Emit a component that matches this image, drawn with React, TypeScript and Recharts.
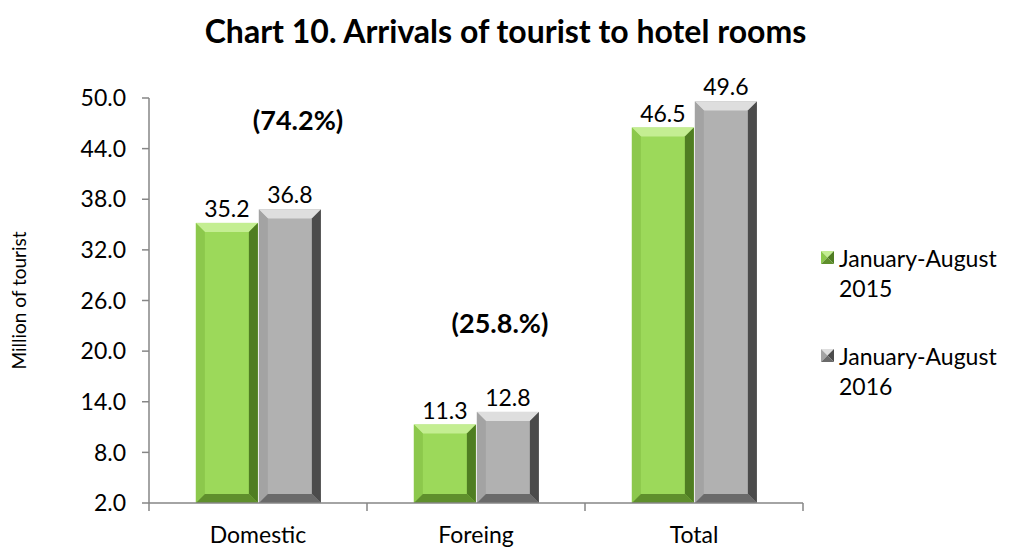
import React from 'react';
import { BarChart, Bar, XAxis, YAxis, LabelList, Label, ReferenceDot } from 'recharts';

const categories = ['Domestic', 'Foreing', 'Total'];
const jan2015 = [35.2, 11.3, 46.5];
const jan2016 = [36.8, 12.8, 49.6];
const yTicks = [2, 8, 14, 20, 26, 32, 38, 44, 50];
const shareCategories = ['Domestic', 'Foreing'];
const shareLevels = [47.4, 23.3];
const shareTexts = ['(74.2%)', '(25.8.%)'];

const seriesNames = ['January-August 2015', 'January-August 2016'];

const data = categories.map((c, i) => ({ name: c, y2015: jan2015[i], y2016: jan2016[i] }));

const FONT = 'Lato, "Open Sans", sans-serif';
const AXIS = '#868686';
const TEXT_SIZE = 23;

type Palette = { face: string; top: string; left: string; right: string; bottom: string };

const GREEN: Palette = { face: '#9cd95a', top: '#c4ee92', left: '#8cc84c', right: '#4f7d22', bottom: '#5f8f2c' };
const GREY: Palette = { face: '#b1b1b1', top: '#dedede', left: '#a3a3a3', right: '#4b4b4b', bottom: '#6a6a6a' };

// bevelled bar like the excel "soft round" preset
const bevelShape = (pal: Palette) => (props: any) => {
  const { x, y, width: w, height: h } = props;
  if (!h || h <= 0) return <g />;
  const b = Math.min(9, w / 4, h / 2);
  return (
    <g>
      <rect x={x} y={y} width={w} height={h} fill={pal.face} />
      <polygon points={`${x},${y} ${x + w},${y} ${x + w - b},${y + b} ${x + b},${y + b}`} fill={pal.top} />
      <polygon points={`${x},${y} ${x + b},${y + b} ${x + b},${y + h - b} ${x},${y + h}`} fill={pal.left} />
      <polygon points={`${x + w},${y} ${x + w},${y + h} ${x + w - b},${y + h - b} ${x + w - b},${y + b}`} fill={pal.right} />
      <polygon points={`${x},${y + h} ${x + w},${y + h} ${x + w - b},${y + h - b} ${x + b},${y + h - b}`} fill={pal.bottom} />
    </g>
  );
};

// category label plus tick marks on the band edges (excel style)
const TICK_MARGIN = 8;
const CategoryTick = (props: any) => {
  const { x, y, payload, index, visibleTicksCount } = props;
  const axisY = y - TICK_MARGIN;
  const half = payload.offset || 0;
  return (
    <g>
      <line x1={x - half} x2={x - half} y1={axisY} y2={axisY + 8} stroke={AXIS} strokeWidth={1.5} />
      {index === visibleTicksCount - 1 && (
        <line x1={x + half} x2={x + half} y1={axisY} y2={axisY + 8} stroke={AXIS} strokeWidth={1.5} />
      )}
      <text x={x} y={axisY + 40} textAnchor="middle" fill="#000" fontSize={TEXT_SIZE} fontFamily={FONT}>
        {payload.value}
      </text>
    </g>
  );
};

const Swatch = ({ pal }: { pal: Palette }) => (
  <svg width={13} height={13} style={{ marginRight: 5, marginTop: 8, flex: 'none' }}>
    <polygon points="0,0 13,0 6.5,6.5" fill={pal.top} />
    <polygon points="0,0 6.5,6.5 0,13" fill={pal.left} />
    <polygon points="13,0 13,13 6.5,6.5" fill={pal.right} />
    <polygon points="0,13 13,13 6.5,6.5" fill={pal.bottom} />
  </svg>
);

const LegendBox = () => (
  <div
    style={{
      position: 'absolute',
      left: 821,
      top: 243,
      fontFamily: FONT,
      fontSize: TEXT_SIZE,
      color: '#000',
      lineHeight: '30px',
    }}
  >
    {seriesNames.map((n, i) => {
      const cut = n.lastIndexOf(' ');
      return (
        <div key={n} style={{ display: 'flex', marginBottom: i === 0 ? 38 : 0 }}>
          <Swatch pal={i === 0 ? GREEN : GREY} />
          <div>
            {n.slice(0, cut)}
            <br />
            {n.slice(cut + 1)}
          </div>
        </div>
      );
    })}
  </div>
);

export default function App() {
  return (
    <div style={{ position: 'absolute', left: 0, top: 0, width: 1011, height: 549, background: '#fff' }}>
      <div
        style={{
          position: 'absolute',
          top: 11,
          left: 0,
          width: 1011,
          textAlign: 'center',
          fontFamily: FONT,
          fontWeight: 700,
          fontSize: 32,
          color: '#000',
        }}
      >
        Chart 10. Arrivals of tourist to hotel rooms
      </div>
      <BarChart
        width={1011}
        height={549}
        data={data}
        margin={{ top: 98, right: 208, bottom: 0, left: 0 }}
        barCategoryGap="21.5%"
        barGap={1}
        style={{ fontFamily: FONT }}
      >
        <XAxis
          dataKey="name"
          height={46}
          stroke={AXIS}
          strokeWidth={1.5}
          tickLine={false}
          tickSize={0}
          tickMargin={TICK_MARGIN}
          interval={0}
          tick={<CategoryTick />}
        />
        <YAxis
          width={149}
          domain={[2, 50]}
          ticks={yTicks}
          interval={0}
          tickFormatter={(v: number) => v.toFixed(1)}
          tickSize={7}
          tickMargin={16}
          stroke={AXIS}
          strokeWidth={1.5}
          tick={{ fill: '#000', fontSize: TEXT_SIZE }}
        >
          <Label
            value="Million of tourist"
            angle={-90}
            position="insideLeft"
            offset={19}
            style={{ textAnchor: 'middle', fill: '#000', fontSize: 19 }}
          />
        </YAxis>
        <Bar dataKey="y2015" name={seriesNames[0]} shape={bevelShape(GREEN)} isAnimationActive={false}>
          <LabelList dataKey="y2015" position="top" offset={6} formatter={(v: any) => Number(v).toFixed(1)} style={{ fill: '#000', fontSize: TEXT_SIZE }} />
        </Bar>
        <Bar dataKey="y2016" name={seriesNames[1]} shape={bevelShape(GREY)} isAnimationActive={false}>
          <LabelList dataKey="y2016" position="top" offset={6} formatter={(v: any) => Number(v).toFixed(1)} style={{ fill: '#000', fontSize: TEXT_SIZE }} />
        </Bar>
        {shareCategories.map((c, i) => (
          <ReferenceDot key={c} x={c} y={shareLevels[i]} r={0} stroke="none" fill="none">
            {/* free-floating text boxes in the original, nudged right of the band centre */}
            <Label value={shareTexts[i]} position="center" dx={i === 0 ? 40 : 24} style={{ fill: '#000', fontSize: 27, fontWeight: 700 }} />
          </ReferenceDot>
        ))}
      </BarChart>
      <LegendBox />
    </div>
  );
}
